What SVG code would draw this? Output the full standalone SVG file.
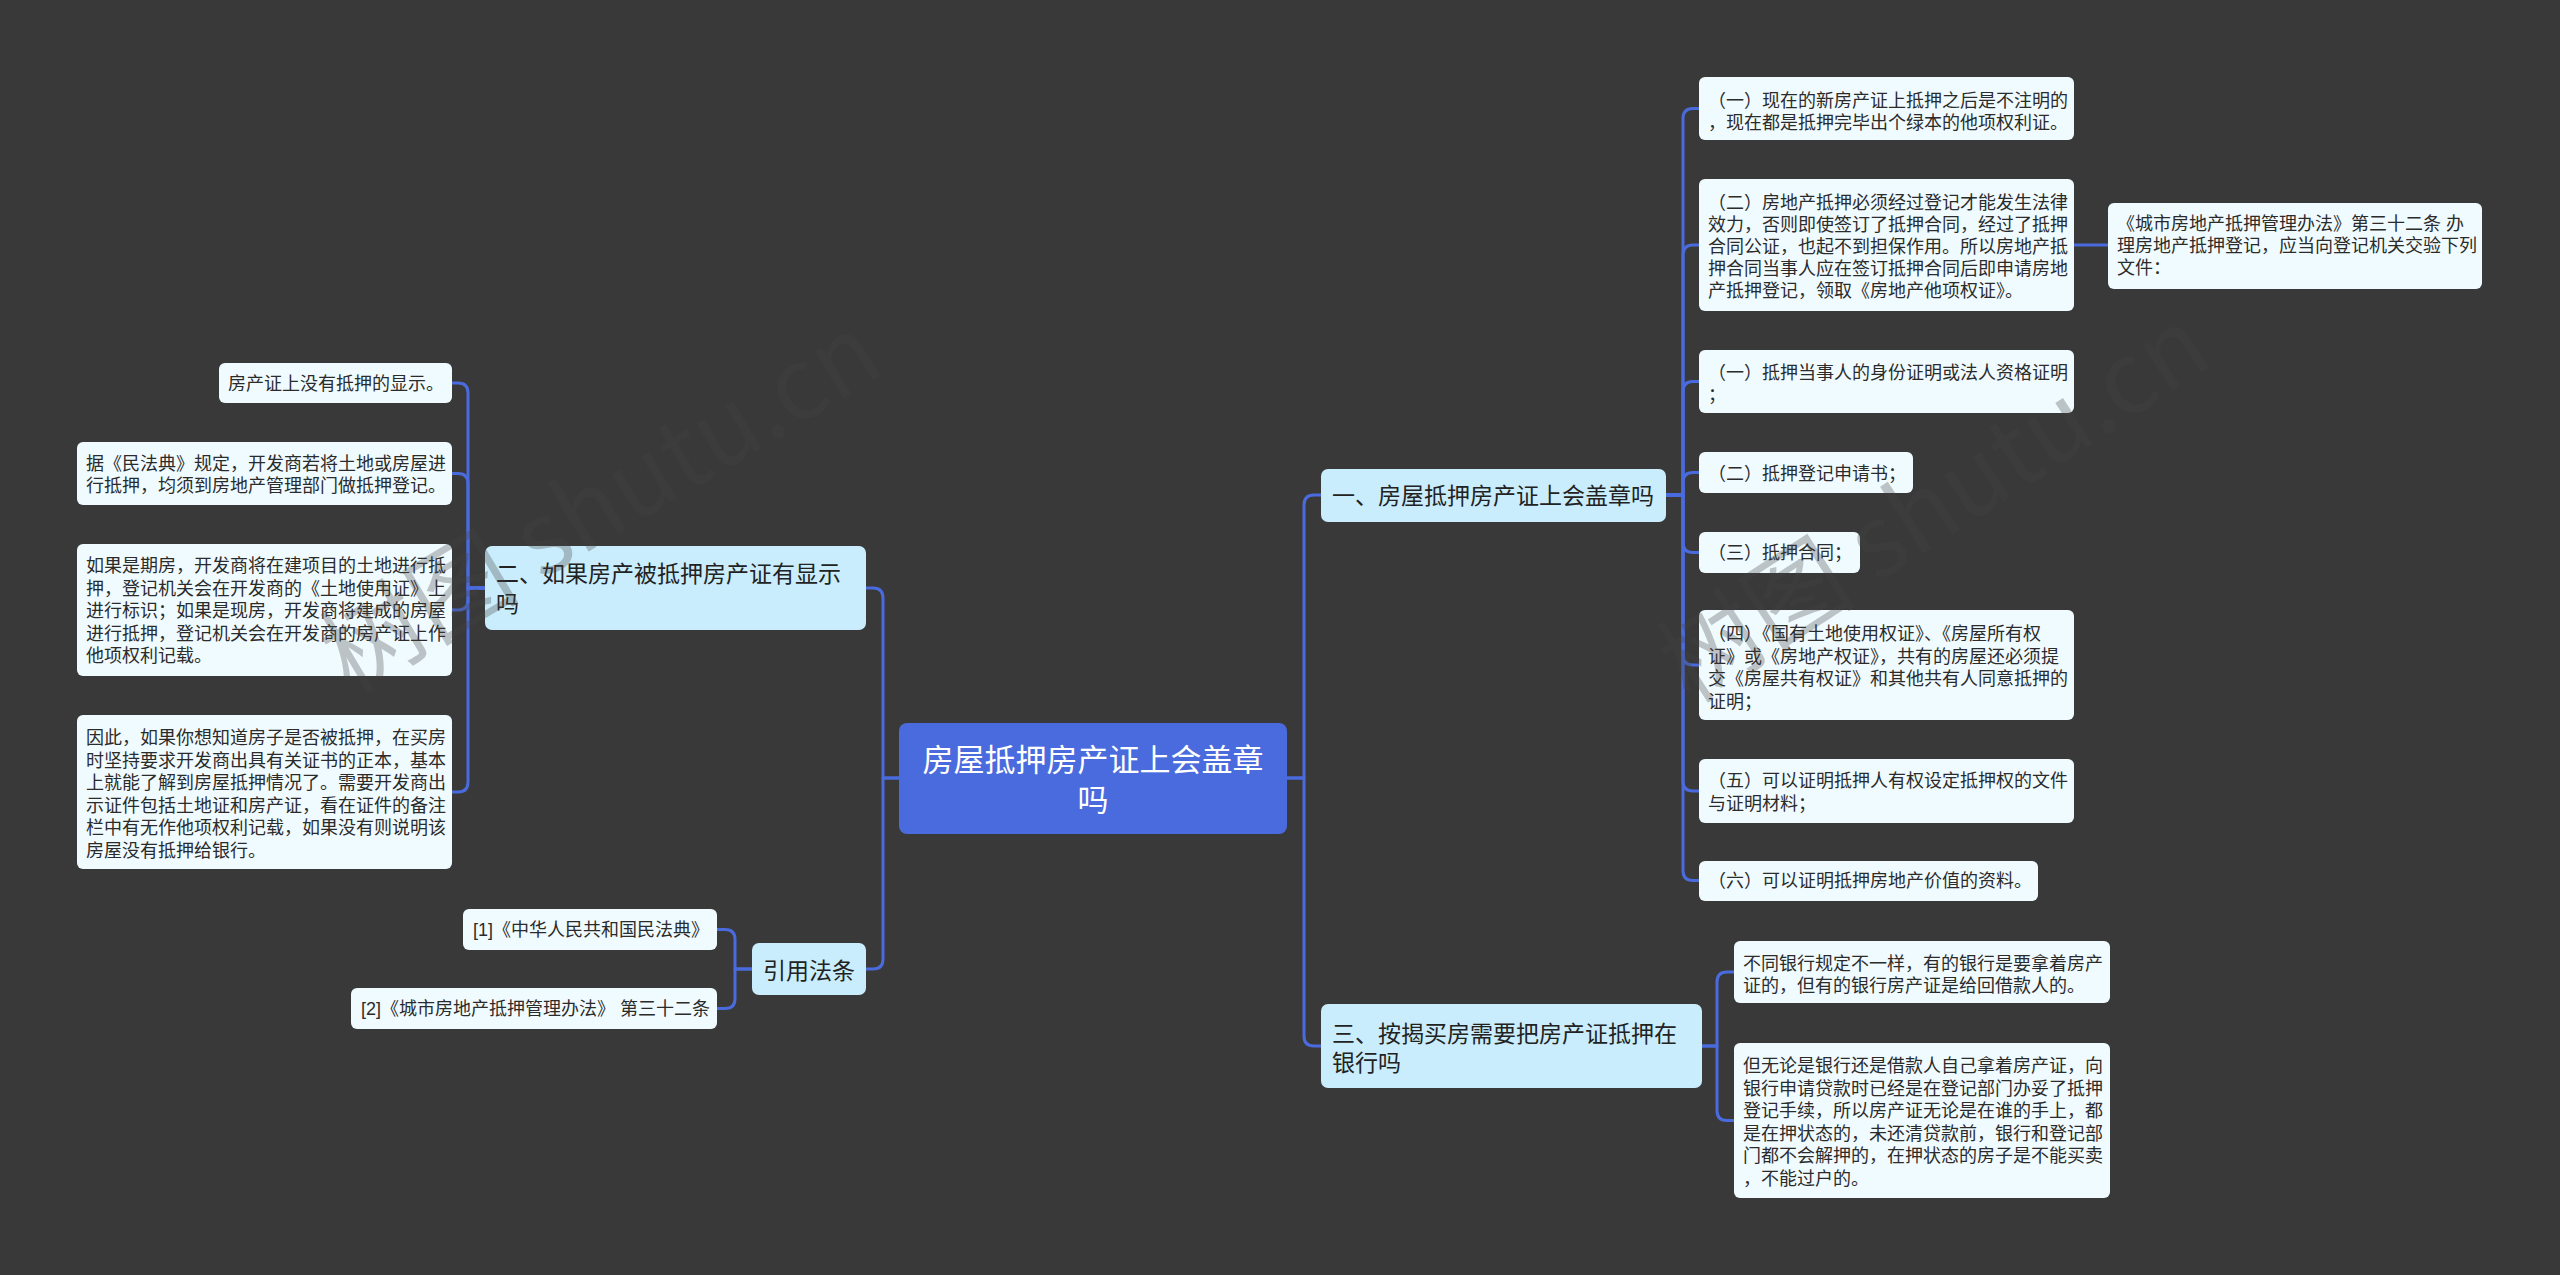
<svg xmlns="http://www.w3.org/2000/svg" width="2560" height="1275" viewBox="0 0 2560 1275">
<defs>
<style>
.bg{fill:#3a3939}
.root rect{fill:#4a6bdd}
.root text{fill:#ffffff;font-size:31px;text-anchor:middle}
.l1 rect{fill:#c9edfc}
.l1 text{fill:#222222;font-size:23px}
.leaf rect{fill:#f0fbff}
.leaf text{fill:#2b2b2b;font-size:18px}
text{font-family:"Liberation Sans","Noto Sans CJK SC",sans-serif}
.conn path{fill:none;stroke:#4a6bdd;stroke-width:3;stroke-linejoin:round}
.wm{fill:#444444;opacity:0.3;font-size:100px;font-family:"Noto Sans CJK SC",sans-serif}
</style>
</defs>
<rect class="bg" x="0" y="0" width="2560" height="1275"/>

<g id="connectors" class="conn">
<path d="M1287 778 H1304 V505 Q1304 495 1314 495 H1321"/>
<path d="M1287 778 H1304 V1036 Q1304 1046 1314 1046 H1321"/>
<path d="M899 778 H883 V598 Q883 588 873 588 H866"/>
<path d="M899 778 H883 V959 Q883 969 873 969 H866"/>
<path d="M1666 495 H1683 V118.5 Q1683 108.5 1693 108.5 H1699"/>
<path d="M1666 495 H1683 V255 Q1683 245 1693 245 H1699"/>
<path d="M1666 495 H1683 V391.5 Q1683 381.5 1693 381.5 H1699"/>
<path d="M1666 495 H1683 V482.5 Q1683 472.5 1693 472.5 H1699"/>
<path d="M1666 495 H1683 V542.5 Q1683 552.5 1693 552.5 H1699"/>
<path d="M1666 495 H1683 V655 Q1683 665 1693 665 H1699"/>
<path d="M1666 495 H1683 V781 Q1683 791 1693 791 H1699"/>
<path d="M1666 495 H1683 V870.5 Q1683 880.5 1693 880.5 H1699"/>
<path d="M2074 245 H2108"/>
<path d="M1702 1046 H1717 V982 Q1717 972 1727 972 H1734"/>
<path d="M1702 1046 H1717 V1110.5 Q1717 1120.5 1727 1120.5 H1734"/>
<path d="M485 588 H468 V393 Q468 383 458 383 H452"/>
<path d="M485 588 H468 V483.5 Q468 473.5 458 473.5 H452"/>
<path d="M485 588 H468 V600 Q468 610 458 610 H452"/>
<path d="M485 588 H468 V782 Q468 792 458 792 H452"/>
<path d="M752 969 H735 V939.5 Q735 929.5 725 929.5 H717"/>
<path d="M752 969 H735 V998.5 Q735 1008.5 725 1008.5 H717"/>
</g>

<g id="root" class="root">
<rect x="899" y="723" width="388" height="111" rx="8"/>
<text x="1093" y="771">房屋抵押房产证上会盖章</text>
<text x="1093" y="811">吗</text>
</g>

<g id="n1" class="l1">
<rect x="1321" y="469" width="345" height="53" rx="7"/>
<text x="1332" y="504">一、房屋抵押房产证上会盖章吗</text>
</g>
<g id="n2" class="l1">
<rect x="485" y="546" width="381" height="84" rx="7"/>
<text x="496" y="582">二、如果房产被抵押房产证有显示</text>
<text x="496" y="612">吗</text>
</g>
<g id="n3" class="l1">
<rect x="1321" y="1004" width="381" height="84" rx="7"/>
<text x="1332" y="1042">三、按揭买房需要把房产证抵押在</text>
<text x="1332" y="1071">银行吗</text>
</g>
<g id="n4" class="l1">
<rect x="752" y="943" width="114" height="52" rx="7"/>
<text x="763" y="979">引用法条</text>
</g>

<g id="n1a" class="leaf">
<rect x="1699" y="77" width="375" height="63" rx="6"/>
<text x="1708" y="107">（一）现在的新房产证上抵押之后是不注明的</text>
<text x="1708" y="129">，现在都是抵押完毕出个绿本的他项权利证。</text>
</g>
<g id="n1b" class="leaf">
<rect x="1699" y="179" width="375" height="132" rx="6"/>
<text x="1708" y="208.5">（二）房地产抵押必须经过登记才能发生法律</text>
<text x="1708" y="230.5">效力，否则即使签订了抵押合同，经过了抵押</text>
<text x="1708" y="252.5">合同公证，也起不到担保作用。所以房地产抵</text>
<text x="1708" y="274.5">押合同当事人应在签订抵押合同后即申请房地</text>
<text x="1708" y="296.5">产抵押登记，领取《房地产他项权证》。</text>
</g>
<g id="n1b1" class="leaf">
<rect x="2108" y="203" width="374" height="86" rx="6"/>
<text x="2117" y="230">《城市房地产抵押管理办法》第三十二条 办</text>
<text x="2117" y="252">理房地产抵押登记，应当向登记机关交验下列</text>
<text x="2117" y="274">文件：</text>
</g>
<g id="n1c" class="leaf">
<rect x="1699" y="350" width="375" height="63" rx="6"/>
<text x="1708" y="378.5">（一）抵押当事人的身份证明或法人资格证明</text>
<text x="1708" y="401">；</text>
</g>
<g id="n1d" class="leaf">
<rect x="1699" y="452" width="214" height="41" rx="6"/>
<text x="1708" y="479.5">（二）抵押登记申请书；</text>
</g>
<g id="n1e" class="leaf">
<rect x="1699" y="532" width="161" height="41" rx="6"/>
<text x="1708" y="559">（三）抵押合同；</text>
</g>
<g id="n1f" class="leaf">
<rect x="1699" y="610" width="375" height="110" rx="6"/>
<text x="1708" y="640">（四）《国有土地使用权证》、《房屋所有权</text>
<text x="1708" y="662.5">证》或《房地产权证》，共有的房屋还必须提</text>
<text x="1708" y="685">交《房屋共有权证》和其他共有人同意抵押的</text>
<text x="1708" y="707.5">证明；</text>
</g>
<g id="n1g" class="leaf">
<rect x="1699" y="759" width="375" height="64" rx="6"/>
<text x="1708" y="787">（五）可以证明抵押人有权设定抵押权的文件</text>
<text x="1708" y="809.5">与证明材料；</text>
</g>
<g id="n1h" class="leaf">
<rect x="1699" y="861" width="339" height="40" rx="6"/>
<text x="1708" y="887">（六）可以证明抵押房地产价值的资料。</text>
</g>

<g id="n3a" class="leaf">
<rect x="1734" y="941" width="376" height="62" rx="6"/>
<text x="1743" y="970">不同银行规定不一样，有的银行是要拿着房产</text>
<text x="1743" y="992">证的，但有的银行房产证是给回借款人的。</text>
</g>
<g id="n3b" class="leaf">
<rect x="1734" y="1043" width="376" height="155" rx="6"/>
<text x="1743" y="1072">但无论是银行还是借款人自己拿着房产证，向</text>
<text x="1743" y="1094.5">银行申请贷款时已经是在登记部门办妥了抵押</text>
<text x="1743" y="1117">登记手续，所以房产证无论是在谁的手上，都</text>
<text x="1743" y="1139.5">是在押状态的，未还清贷款前，银行和登记部</text>
<text x="1743" y="1162">门都不会解押的，在押状态的房子是不能买卖</text>
<text x="1743" y="1184.5">，不能过户的。</text>
</g>

<g id="n2a" class="leaf">
<rect x="219" y="363" width="233" height="40" rx="6"/>
<text x="228" y="390">房产证上没有抵押的显示。</text>
</g>
<g id="n2b" class="leaf">
<rect x="77" y="442" width="375" height="63" rx="6"/>
<text x="86" y="470">据《民法典》规定，开发商若将土地或房屋进</text>
<text x="86" y="492">行抵押，均须到房地产管理部门做抵押登记。</text>
</g>
<g id="n2c" class="leaf">
<rect x="77" y="544" width="375" height="132" rx="6"/>
<text x="86" y="572">如果是期房，开发商将在建项目的土地进行抵</text>
<text x="86" y="594.5">押，登记机关会在开发商的《土地使用证》上</text>
<text x="86" y="617">进行标识；如果是现房，开发商将建成的房屋</text>
<text x="86" y="639.5">进行抵押，登记机关会在开发商的房产证上作</text>
<text x="86" y="662">他项权利记载。</text>
</g>
<g id="n2d" class="leaf">
<rect x="77" y="715" width="375" height="154" rx="6"/>
<text x="86" y="744">因此，如果你想知道房子是否被抵押，在买房</text>
<text x="86" y="766.5">时坚持要求开发商出具有关证书的正本，基本</text>
<text x="86" y="789">上就能了解到房屋抵押情况了。需要开发商出</text>
<text x="86" y="811.5">示证件包括土地证和房产证，看在证件的备注</text>
<text x="86" y="834">栏中有无作他项权利记载，如果没有则说明该</text>
<text x="86" y="856.5">房屋没有抵押给银行。</text>
</g>

<g id="n4a" class="leaf">
<rect x="463" y="909" width="254" height="41" rx="6"/>
<text x="473" y="936">[1]《中华人民共和国民法典》</text>
</g>
<g id="n4b" class="leaf">
<rect x="351" y="988" width="366" height="41" rx="6"/>
<text x="361" y="1015">[2]《城市房地产抵押管理办法》 第三十二条</text>
</g>

<g id="watermark">
<text class="wm" transform="translate(350 695) rotate(-31)">树图 shutu.cn</text>
<text class="wm" transform="translate(1690 705) rotate(-33)">树图 shutu.cn</text>
</g>
</svg>
